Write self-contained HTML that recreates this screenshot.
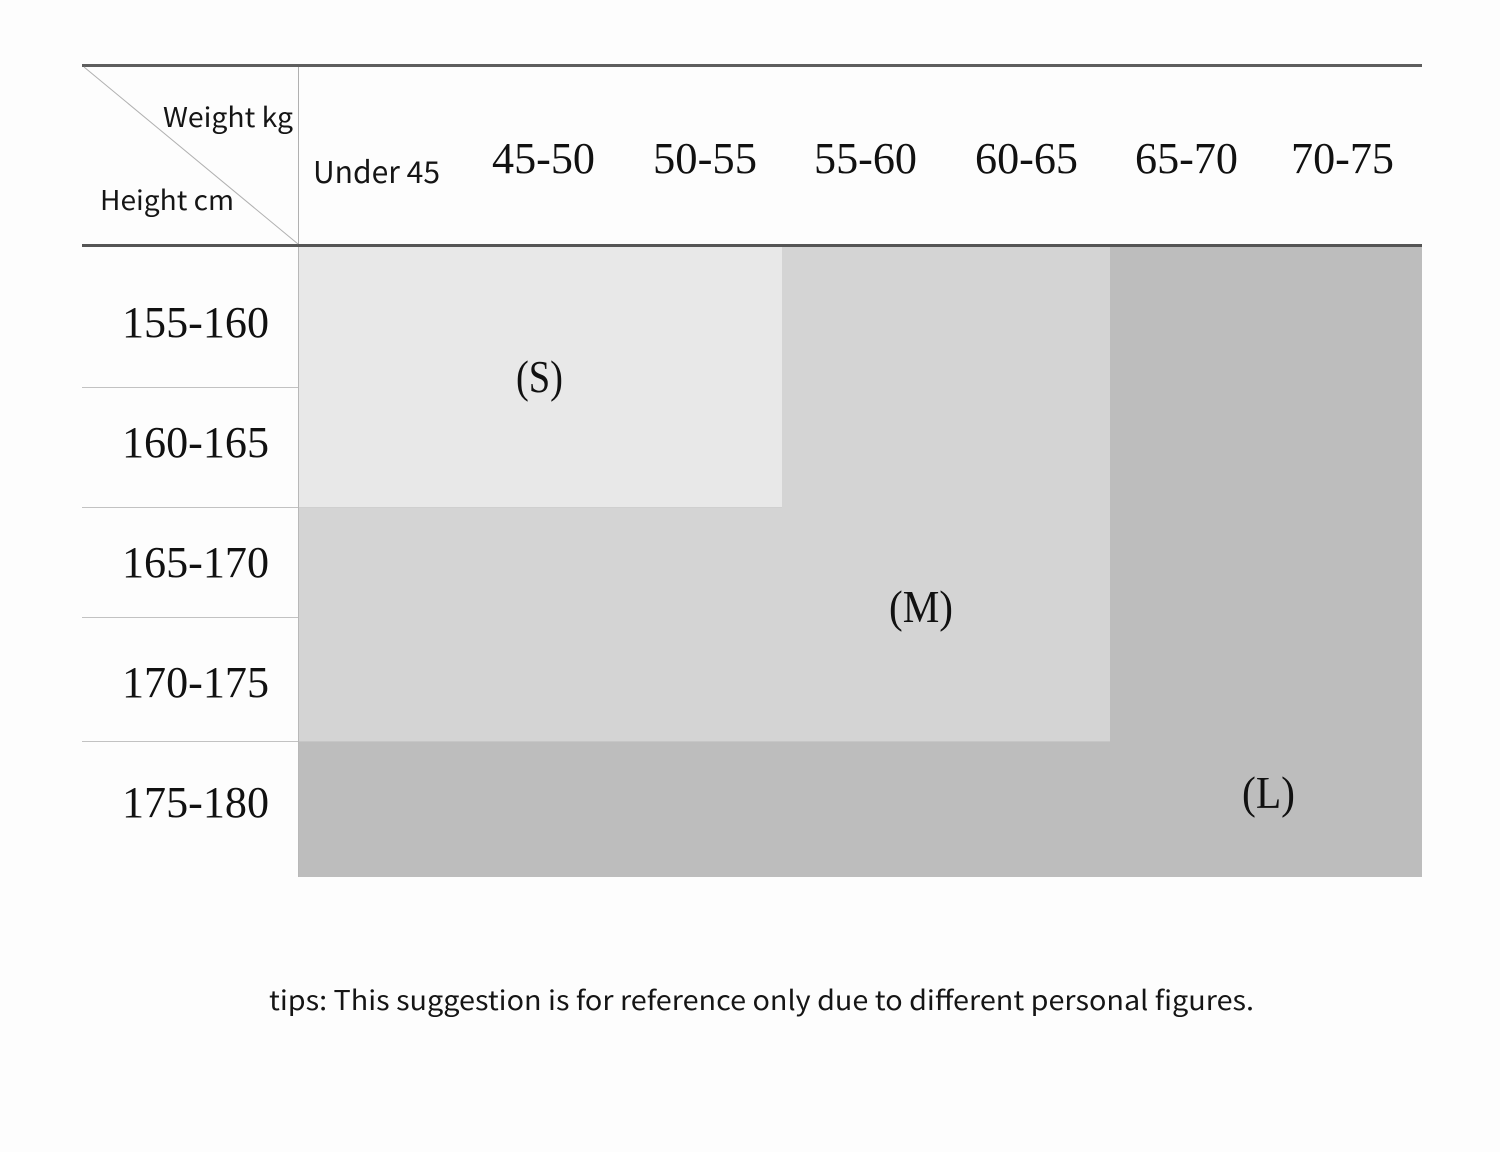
<!DOCTYPE html>
<html>
<head>
<meta charset="utf-8">
<style>
  html, body { margin: 0; padding: 0; background: #fdfdfd; }
  svg { display: block; }
  .sans { font-family: "Noto Sans CJK SC", "Liberation Sans", "DejaVu Sans", sans-serif; fill: #151515; }
  .serif { font-family: "Liberation Serif", "DejaVu Serif", serif; fill: #111; }
</style>
</head>
<body>
<svg width="1500" height="1152" viewBox="0 0 1500 1152" xmlns="http://www.w3.org/2000/svg">
  <rect x="0" y="0" width="1500" height="1152" fill="#fdfdfd"/>

  <!-- Size regions -->
  <rect x="298" y="247" width="1124" height="630" fill="#bdbdbd"/>
  <rect x="298" y="247" width="812" height="494" fill="#d4d4d4"/>
  <rect x="298" y="247" width="484" height="260" fill="#e8e8e8"/>
  <line x1="298" y1="507.5" x2="782" y2="507.5" stroke="#cfcfcf" stroke-width="1"/>
  <line x1="298" y1="741.5" x2="1110" y2="741.5" stroke="#c6c6c6" stroke-width="1"/>
  <line x1="298.5" y1="247" x2="298.5" y2="877" stroke="#b8b8b8" stroke-width="1"/>

  <!-- Header lines -->
  <rect x="82" y="64" width="1340" height="3" fill="#5e5e5e"/>
  <rect x="82" y="244" width="1340" height="3" fill="#555555"/>
  <line x1="298.5" y1="67" x2="298.5" y2="244" stroke="#b0b0b0" stroke-width="1"/>
  <line x1="84" y1="67" x2="298" y2="244" stroke="#b0b0b0" stroke-width="1"/>

  <!-- Row separators -->
  <line x1="82" y1="387.5" x2="298" y2="387.5" stroke="#c2c2c2" stroke-width="1"/>
  <line x1="82" y1="507.5" x2="298" y2="507.5" stroke="#c2c2c2" stroke-width="1"/>
  <line x1="82" y1="617.5" x2="298" y2="617.5" stroke="#c2c2c2" stroke-width="1"/>
  <line x1="82" y1="741.5" x2="298" y2="741.5" stroke="#c2c2c2" stroke-width="1"/>

  <!-- Corner header -->
  <text class="sans" x="163" y="127" font-size="27" textLength="130" lengthAdjust="spacingAndGlyphs">Weight kg</text>
  <text class="sans" x="100" y="210" font-size="27" textLength="134" lengthAdjust="spacingAndGlyphs">Height cm</text>

  <!-- Column headers -->
  <text class="sans" x="313" y="183" font-size="30" textLength="127" lengthAdjust="spacingAndGlyphs">Under 45</text>
  <text class="serif" x="492" y="173" font-size="44" textLength="103" lengthAdjust="spacingAndGlyphs">45-50</text>
  <text class="serif" x="653" y="173" font-size="44" textLength="104" lengthAdjust="spacingAndGlyphs">50-55</text>
  <text class="serif" x="814" y="173" font-size="44" textLength="103" lengthAdjust="spacingAndGlyphs">55-60</text>
  <text class="serif" x="975" y="173" font-size="44" textLength="103" lengthAdjust="spacingAndGlyphs">60-65</text>
  <text class="serif" x="1135" y="173" font-size="44" textLength="103" lengthAdjust="spacingAndGlyphs">65-70</text>
  <text class="serif" x="1291" y="173" font-size="44" textLength="103" lengthAdjust="spacingAndGlyphs">70-75</text>

  <!-- Row labels -->
  <text class="serif" x="122" y="337" font-size="44" textLength="147" lengthAdjust="spacingAndGlyphs">155-160</text>
  <text class="serif" x="122" y="457" font-size="44" textLength="147" lengthAdjust="spacingAndGlyphs">160-165</text>
  <text class="serif" x="122" y="577" font-size="44" textLength="147" lengthAdjust="spacingAndGlyphs">165-170</text>
  <text class="serif" x="122" y="697" font-size="44" textLength="147" lengthAdjust="spacingAndGlyphs">170-175</text>
  <text class="serif" x="122" y="817" font-size="44" textLength="147" lengthAdjust="spacingAndGlyphs">175-180</text>

  <!-- Size labels -->
  <text class="serif" x="516" y="392" font-size="46" textLength="47" lengthAdjust="spacingAndGlyphs">(S)</text>
  <text class="serif" x="889" y="622" font-size="46" textLength="64" lengthAdjust="spacingAndGlyphs">(M)</text>
  <text class="serif" x="1242" y="808" font-size="46" textLength="53" lengthAdjust="spacingAndGlyphs">(L)</text>

  <!-- Tips -->
  <text class="sans" x="269" y="1010" font-size="27" textLength="985" lengthAdjust="spacingAndGlyphs">tips: This suggestion is for reference only due to different personal figures.</text>
</svg>
</body>
</html>
